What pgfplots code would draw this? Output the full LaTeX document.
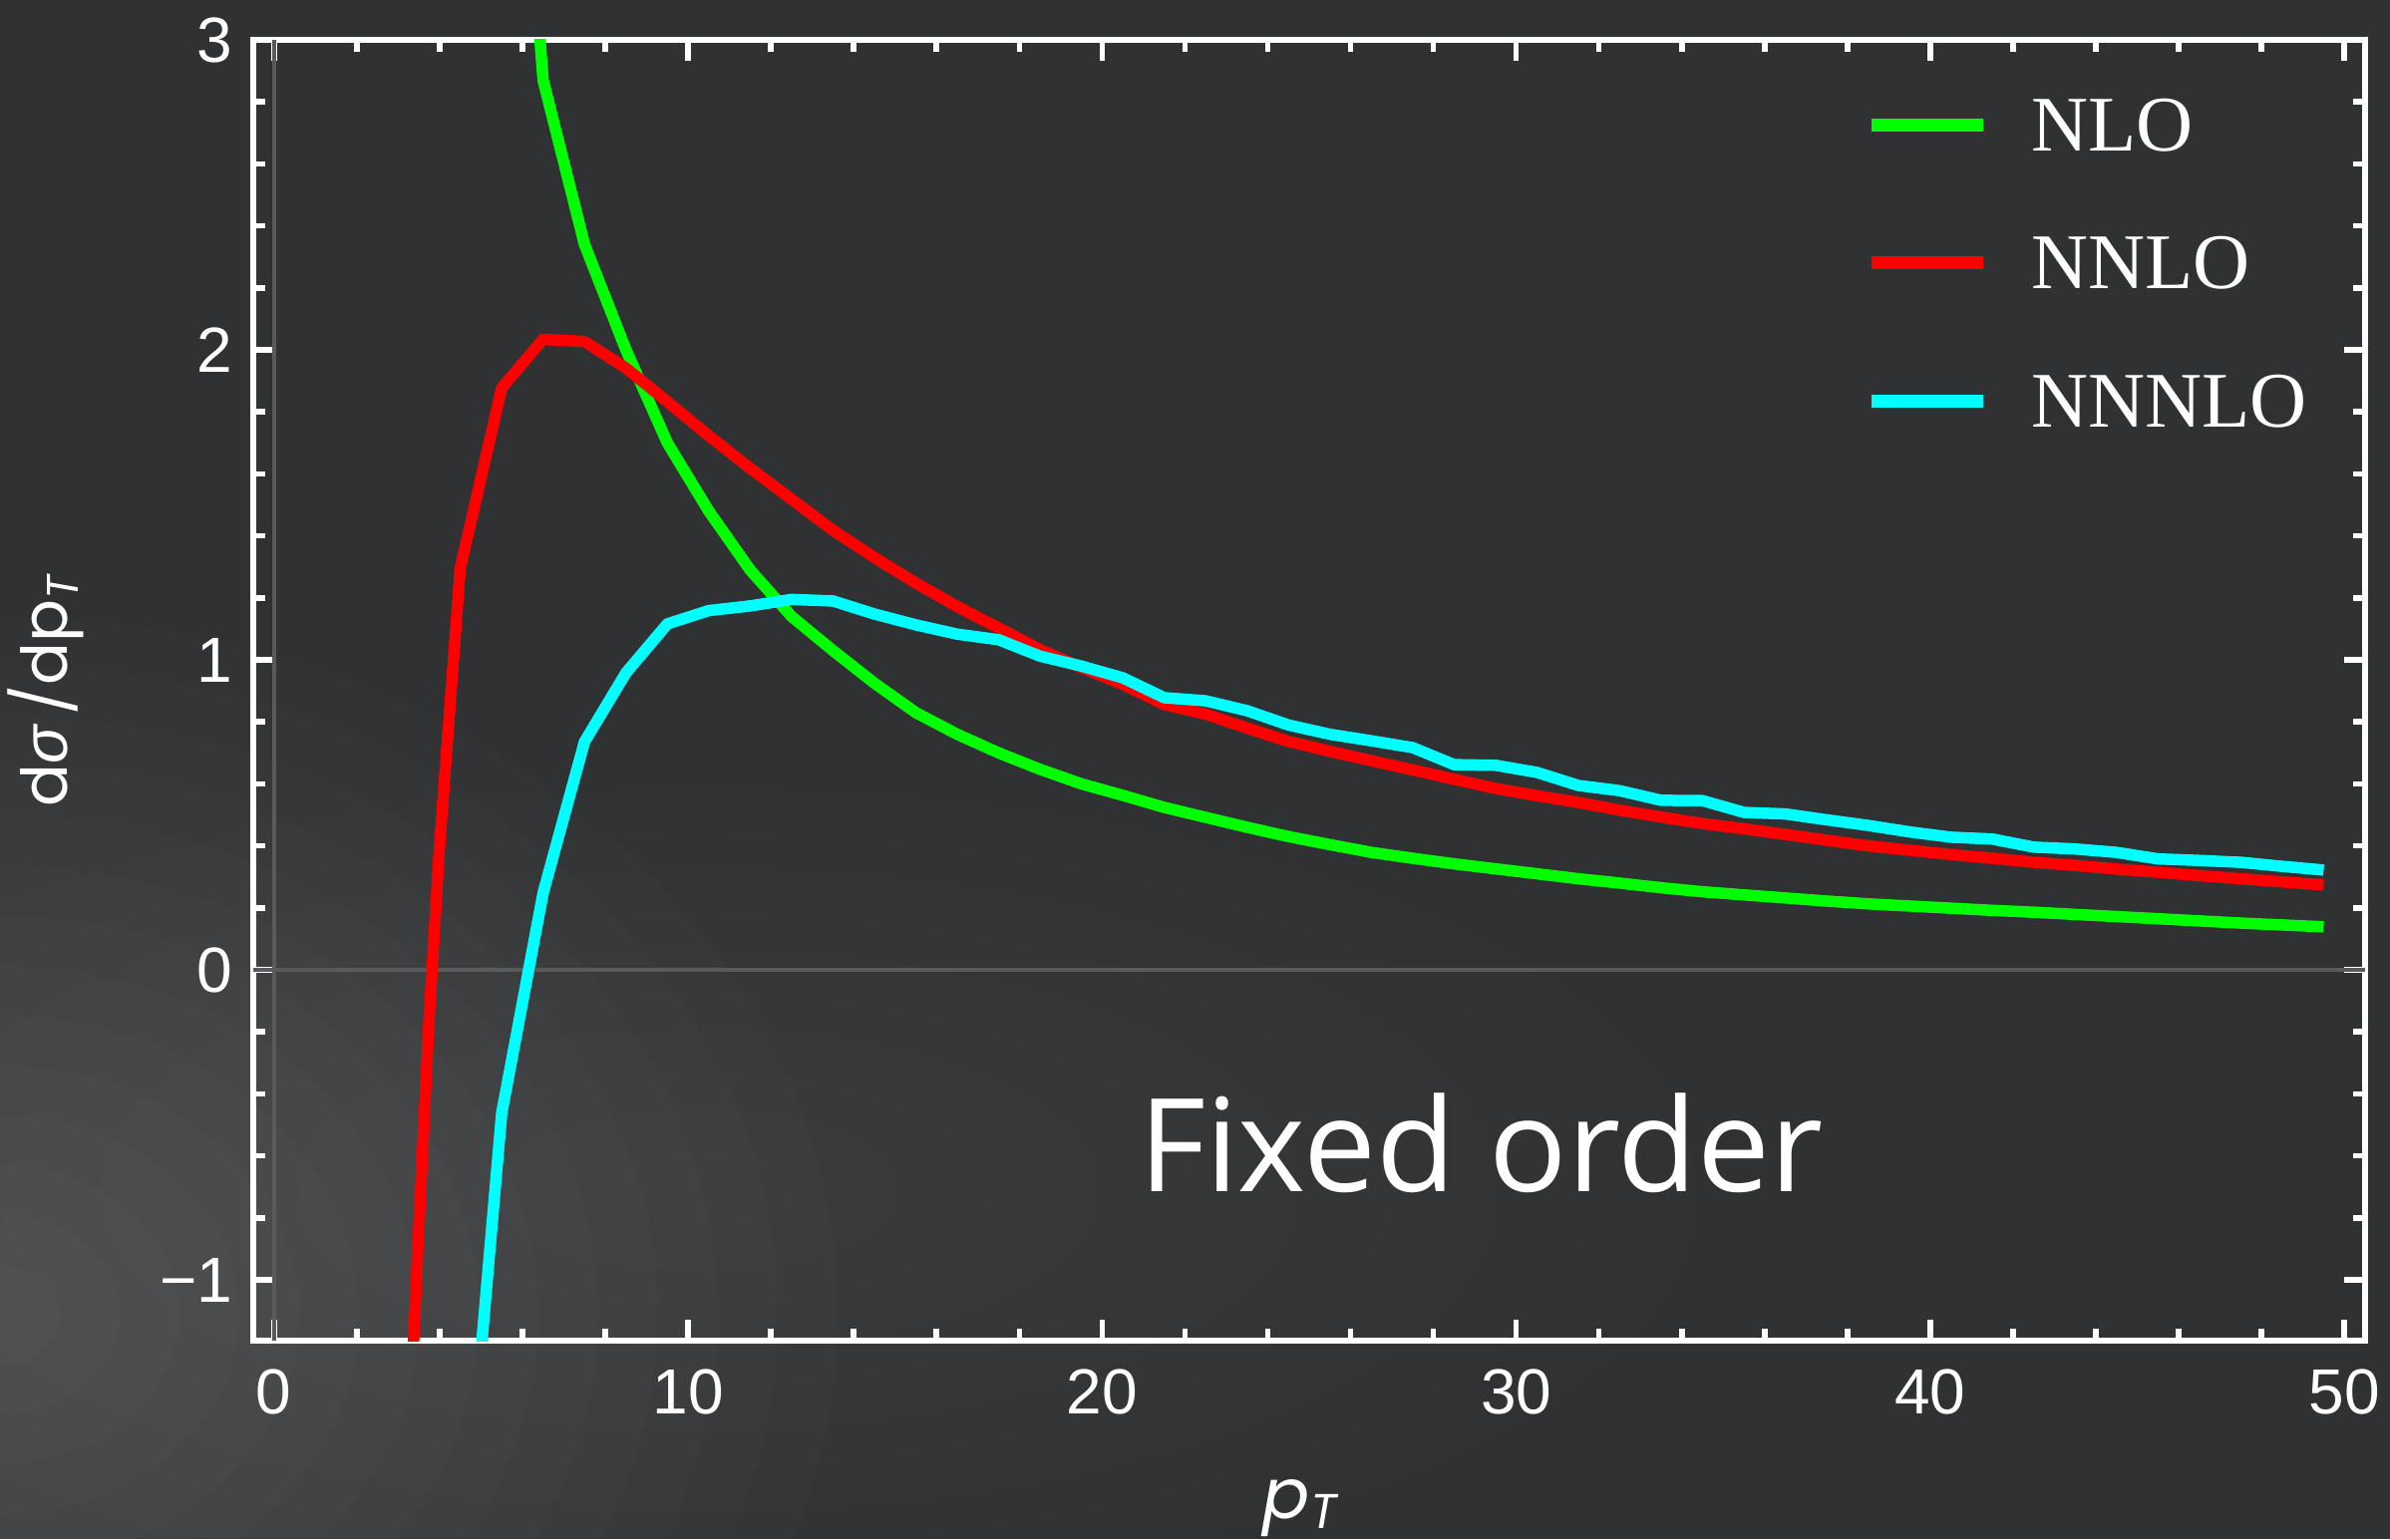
\documentclass[border=0pt]{standalone}
\usepackage{fontspec}
\usepackage{pgfplots}
\pgfplotsset{compat=1.18}
\setmainfont{Liberation Sans}
\newfontfamily\legendfont{Liberation Serif}
\newfontfamily\captionfont{Open Sans}
\newfontfamily\labelfont{Poppins}

\definecolor{board}{RGB}{47,49,51}
\definecolor{zeroline}{RGB}{88,90,92}
\definecolor{nlo}{RGB}{0,255,0}
\definecolor{nnlo}{RGB}{255,0,0}
\definecolor{nnnlo}{RGB}{0,255,255}

\begin{document}
\begin{tikzpicture}
% chalkboard background with a soft chalk haze towards the lower left
\fill[board] (0,0) rectangle (479.4pt,308.8pt);
\begin{scope}
  \clip (0,0) rectangle (479.4pt,308.8pt);
  \foreach \k in {1,...,14}
    \fill[white, opacity=0.011] (0pt,45pt) ellipse ({\k*12pt} and {\k*10pt});
  \foreach \k in {1,...,10}
    \fill[white, opacity=0.006] (140pt,70pt) ellipse ({\k*20pt} and {\k*8pt});
\end{scope}

\begin{axis}[
  at={(50.8pt,39.8pt)}, anchor=south west,
  scale only axis, width=423.6pt, height=261pt,
  xmin=-0.5, xmax=50.5, ymin=-1.196, ymax=3,
  axis line style={white, line width=1.3pt},
  tick style={white, line width=1.1pt},
  major tick length=4.2pt, minor tick length=2.4pt,
  xtick={0,10,20,30,40,50}, xticklabels={0,10,20,30,40,50},
  ytick={-1,0,1,2,3}, yticklabels={−1,0,1,2,3},
  minor x tick num=4, minor y tick num=4,
  ticklabel style={text=white, font=\fontsize{12.8}{14}\selectfont},
  xticklabel style={yshift=-2.2pt},
  yticklabel style={xshift=-0.6pt},
  xlabel={\labelfont\itshape p\textsubscript{T}},
  xlabel style={at={(axis description cs:0.4962,-0.1365)}, anchor=base,
    text=white, font=\fontsize{14}{16}\selectfont, inner sep=0pt},
  ylabel={\labelfont d{\rmfamily\itshape σ}\,/dp\textsubscript{\itshape T}},
  ylabel style={at={(axis description cs:-0.1166,0.5)}, anchor=north,
    text=white, font=\fontsize{12.7}{15}\selectfont, inner sep=0pt},
  legend style={at={(0.7630,0.9548)}, anchor=north west, draw=none, fill=none,
    inner sep=0pt, outer sep=0pt, row sep=17.24pt,
    font=\legendfont\fontsize{15.8}{18}\selectfont, text=white,
    nodes={inner sep=0pt, text height=10.46pt, text depth=0pt}},
  legend cell align=left,
  legend image code/.code={
    \draw[#1, line width=2.6pt, line cap=butt] (0pt,0pt) -- (22.5pt,0pt);
    \path (31pt,0pt);},
  every axis plot/.append style={line width=2.3pt, line join=round},
]
% axes through the origin
\draw[zeroline, line width=0.8pt] (axis cs:-0.5,0) -- (axis cs:50.5,0);
\draw[zeroline, line width=0.8pt] (axis cs:0,-1.196) -- (axis cs:0,3);

\addplot[nlo] coordinates {
  (5.5,4.6) (6.5,2.87) (7.5,2.34) (8.5,2.0) (9.5,1.70) (10.5,1.48)
  (11.5,1.29) (12.5,1.14) (13.5,1.03) (14.5,0.925) (15.5,0.83)
  (16.5,0.76) (17.5,0.70) (18.5,0.647) (19.5,0.60) (20.5,0.563)
  (21.5,0.524) (22.5,0.492) (23.5,0.46) (24.5,0.43) (25.5,0.404)
  (26.5,0.379) (27.5,0.36) (28.5,0.342) (29.5,0.326) (30.5,0.31)
  (31.5,0.294) (32.5,0.28) (33.5,0.265) (34.5,0.252) (35.5,0.242)
  (36.5,0.232) (37.5,0.222) (38.5,0.213) (39.5,0.206) (40.5,0.199)
  (41.5,0.192) (42.5,0.186) (43.5,0.179) (44.5,0.172) (45.5,0.165)
  (46.5,0.158) (47.5,0.151) (48.5,0.145) (49.5,0.139)
};
\addlegendentry{NLO}

\addplot[nnlo] coordinates {
  (3.2,-1.7) (3.5,-0.83) (3.75,-0.15) (4.0,0.4) (4.5,1.296)
  (5.5,1.877) (6.5,2.034) (7.5,2.027) (8.5,1.941) (9.5,1.833)
  (10.5,1.723) (11.5,1.618) (12.5,1.518) (13.5,1.418) (14.5,1.33)
  (15.5,1.248) (16.5,1.172) (17.5,1.103) (18.5,1.033) (19.5,0.975)
  (20.5,0.921) (21.5,0.856) (22.5,0.825) (23.5,0.78) (24.5,0.737)
  (25.5,0.705) (26.5,0.675) (27.5,0.645) (28.5,0.615) (29.5,0.585)
  (30.5,0.562) (31.5,0.54) (32.5,0.515) (33.5,0.493) (34.5,0.472)
  (35.5,0.455) (36.5,0.437) (37.5,0.418) (38.5,0.40) (39.5,0.386)
  (40.5,0.372) (41.5,0.36) (42.5,0.347) (43.5,0.337) (44.5,0.325)
  (45.5,0.315) (46.5,0.304) (47.5,0.294) (48.5,0.284) (49.5,0.274)
};
\addlegendentry{NNLO}

\addplot[nnnlo] coordinates {
  (4.5,-2.0) (5.5,-0.462) (6.5,0.248) (7.5,0.736) (8.5,0.958)
  (9.5,1.116) (10.5,1.159) (11.5,1.174) (12.5,1.195) (13.5,1.19)
  (14.5,1.148) (15.5,1.113) (16.5,1.083) (17.5,1.065) (18.5,1.012)
  (19.5,0.98) (20.5,0.942) (21.5,0.878) (22.5,0.868) (23.5,0.836)
  (24.5,0.79) (25.5,0.76) (26.5,0.739) (27.5,0.717) (28.5,0.662)
  (29.5,0.66) (30.5,0.637) (31.5,0.595) (32.5,0.578) (33.5,0.547)
  (34.5,0.546) (35.5,0.508) (36.5,0.503) (37.5,0.484) (38.5,0.466)
  (39.5,0.445) (40.5,0.428) (41.5,0.422) (42.5,0.396) (43.5,0.39)
  (44.5,0.379) (45.5,0.358) (46.5,0.353) (47.5,0.347) (48.5,0.334)
  (49.5,0.322)
};
\addlegendentry{NNNLO}
\end{axis}

\node[anchor=base west, inner sep=0pt, text=white,
  font=\captionfont\fontsize{26}{30}\selectfont] at (228.2pt,69.8pt) {Fixed order};

\pgfresetboundingbox
\useasboundingbox (0,0) rectangle (479.4pt,308.8pt);
\end{tikzpicture}
\end{document}
